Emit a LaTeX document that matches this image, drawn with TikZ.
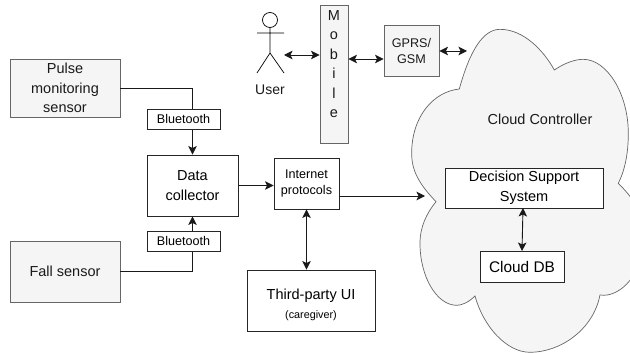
\documentclass[tikz,border=0pt]{standalone}
\usepackage{fontspec}
\setmainfont{Liberation Sans}
\usetikzlibrary{arrows.meta}
\definecolor{greyfill}{HTML}{F5F5F5}
\definecolor{greyline}{HTML}{666666}
\definecolor{greytext}{HTML}{1A1A1A}
\newcommand{\fsA}{\fontsize{14.5}{19.5}\selectfont}
\newcommand{\fsB}{\fontsize{12.6}{16}\selectfont}
\newcommand{\fsC}{\fontsize{10.8}{13}\selectfont}
\tikzset{
  box/.style={draw=black!85,line width=.9pt,fill=white,inner sep=0pt,align=center,text=black,font=\fsA},
  greybox/.style={draw=greyline,line width=.9pt,fill=greyfill,inner sep=0pt,align=center,text=greytext,font=\fsA},
  size/.style 2 args={minimum width=#1pt,minimum height=#2pt},
  conn/.style={draw=black!90,line width=.9pt},
  oneway/.style={conn,-{Stealth[length=8.5pt,width=8.5pt,inset=2pt]}},
  twoway/.style={conn,{Stealth[length=8.5pt,width=8.5pt,inset=2pt]}-{Stealth[length=8.5pt,width=8.5pt,inset=2pt]}},
  label text/.style={inner sep=0pt,text=greytext,font=\fsA}
}
\begin{document}
\begin{tikzpicture}[x=1pt,y=-1pt]
\useasboundingbox (0,0) rectangle (630,353);
\clip (0,0) rectangle (630,353);
% cloud
\begin{scope}[shift={(380,20)},x=.3333pt,y=-.3333pt]
\draw[draw=greyline,line width=.7pt,fill=greyfill]
  (168,545) .. controls (115,490) and (95,450) .. (95,400)
  .. controls (95,290) and (160,215) .. (238,207)
  .. controls (270,90) and (310,28) .. (360,28)
  .. controls (430,28) and (490,90) .. (523,150)
  .. controls (560,125) and (590,118) .. (610,118)
  .. controls (680,118) and (745,220) .. (745,340)
  .. controls (745,400) and (735,450) .. (715,490)
  .. controls (745,520) and (790,570) .. (795,640)
  .. controls (795,760) and (720,835) .. (660,825)
  .. controls (640,930) and (540,997) .. (450,997)
  .. controls (380,997) and (310,920) .. (285,828)
  .. controls (265,848) and (245,856) .. (230,856)
  .. controls (170,856) and (120,770) .. (120,670)
  .. controls (120,620) and (140,580) .. (168,545) -- cycle;
\end{scope}
\node[label text] (cc) at (540,119) {Cloud Controller};
\coordinate (cloudW) at (425,196);
\coordinate (cloudN) at (467,51);
% boxes
\node[greybox,size={110}{58}] (pulse) at (65,88) {Pulse\\monitoring\\sensor};
\node[greybox,size={110}{61}] (fall) at (65,271.5) {Fall sensor};
\node[box,size={91}{61}] (data) at (192.5,185.5) {Data\\collector};
\node[box,size={65}{51},font=\fsB] (inet) at (306.5,183.5) {Internet\\protocols};
\node[box,size={128}{61}] (third) at (311,300.5) {~\\Third-party UI\\{\fsC (caregiver)}};
\node[greybox,size={28}{138}] (mobile) at (334,74) {M\\o\\b\\i\\l\\e\\~};
\node[greybox,size={55}{51},font=\fsB] (gprs) at (411.5,50.5) {GPRS/\\GSM};
\node[box,size={158}{40}] (dss) at (524,188) {Decision Support\\System};
\node[box,size={84}{31},font=\fontsize{15.4}{18}\selectfont] (db) at (522,266.5) {Cloud DB};
% actor
\node[circle,draw=black,line width=.7pt,minimum size=15pt,inner sep=0pt] (head) at (270,20) {};
\draw[line width=.7pt] (head.south) -- (270,53) (257,33) -- (284,33) (257,73) -- (270,53) -- (284,73);
\coordinate (userE) at (284,55);
\node[label text,font=\fontsize{14}{17}\selectfont] (user) at (270,90) {User};
% connectors
\draw[oneway] (pulse.east) -| (data.north);
\draw[oneway] (fall.east) -| (data.south);
\draw[oneway] (data.east) -- (data.east -| inet.west);
\draw[oneway] (inet.east |- cloudW) -- (cloudW);
\draw[twoway] (inet.south) -- (inet.south |- third.north);
\draw[twoway] (userE) -- (userE -| mobile.west);
\draw[twoway] (mobile.east |- 0,59) -- (gprs.west |- 0,59);
\draw[twoway] (gprs.east |- cloudN) -- (cloudN);
\draw[twoway] (523,208) -- (522,251);
% bluetooth boxes sit on the lines
\node[box,size={73}{20},font=\fsB] (bt1) at (183.5,119) {Bluetooth};
\node[box,size={73}{20},font=\fsB] (bt2) at (183.5,241) {Bluetooth};
\end{tikzpicture}
\end{document}
